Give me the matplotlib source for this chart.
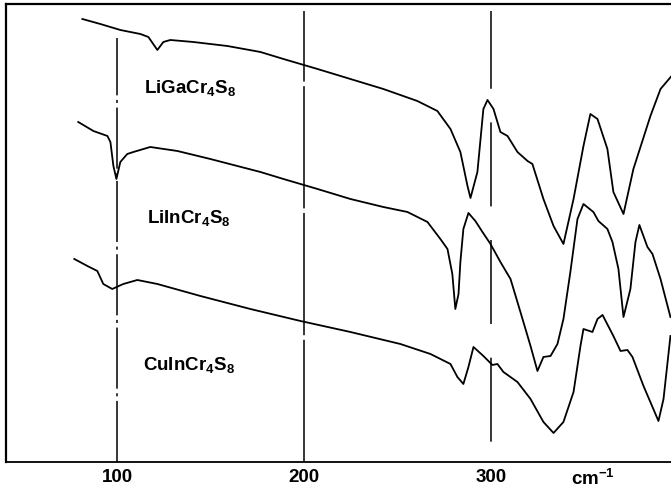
import matplotlib
matplotlib.use("Agg")
import matplotlib.pyplot as plt

plt.rcParams['font.family'] = ['Liberation Sans', 'DejaVu Sans']
plt.rcParams['mathtext.fontset'] = 'custom'
plt.rcParams['mathtext.rm'] = 'Liberation Sans:bold'
plt.rcParams['mathtext.bf'] = 'Liberation Sans:bold'
plt.rcParams['mathtext.default'] = 'bf'

# wavenumber (cm-1) and relative transmission (arbitrary units, traces offset)
ligacr_x = [81.3, 90.9, 101.6, 112.3, 116.6, 121.4, 124.6, 128.3, 140.6, 158.8,
            176.5, 188.8, 207.0, 224.6, 242.2, 260.4, 271.1, 278.1, 283.4, 287.2,
            288.8, 292.5, 295.7, 297.9, 301.1, 304.8, 308.6, 313.9, 319.3, 321.9,
            327.8, 333.2, 338.5, 343.9, 349.2, 352.9, 356.7, 362.0, 365.2, 370.6,
            375.9, 385.0, 390.4, 396.3]
ligacr_y = [443, 438, 432, 428, 425, 412, 420, 422, 420, 416,
            410, 403, 393, 383, 373, 361, 351, 333, 310, 276,
            264, 290, 353, 362, 353, 330, 326, 310, 301, 298,
            263, 236, 218, 263, 316, 348, 343, 313, 270, 248,
            293, 346, 373, 386]

liincr_x = [79.1, 87.2, 94.7, 96.3, 97.9, 99.5, 101.6, 105.3, 108.6, 117.6,
            132.1, 149.7, 176.5, 188.8, 207.0, 224.6, 242.2, 255.1, 265.8, 272.7,
            276.5, 279.1, 280.7, 282.4, 283.4, 285.0, 287.7, 291.4, 295.2, 299.5,
            304.8, 310.2, 315.5, 320.9, 324.6, 327.8, 331.6, 335.3, 338.5, 342.2,
            346.0, 349.2, 354.5, 357.2, 362.0, 364.7, 367.9, 370.6, 374.3, 377.0,
            379.1, 383.4, 386.1, 390.4, 395.7]
liincr_y = [340, 331, 326, 320, 296, 283, 300, 308, 310, 315,
            311, 303, 290, 283, 273, 263, 255, 250, 240, 223,
            213, 188, 153, 168, 200, 233, 249, 241, 230, 218,
            200, 183, 150, 116, 91, 105, 106, 118, 143, 190,
            243, 258, 250, 241, 233, 220, 193, 145, 173, 220,
            237, 215, 208, 183, 145]

cuincr_x = [77.0, 84.0, 89.3, 92.5, 97.3, 103.2, 110.7, 121.4, 144.4, 171.1,
            197.9, 224.6, 251.3, 267.4, 278.1, 281.8, 285.0, 287.7, 290.4, 295.7,
            300.5, 303.2, 306.4, 313.9, 320.9, 327.8, 333.2, 338.5, 343.9, 347.6,
            349.2, 354.0, 356.7, 359.4, 365.2, 369.0, 372.7, 375.4, 381.3, 389.3,
            392.0, 395.7]
cuincr_y = [203, 196, 191, 178, 173, 178, 182, 178, 166, 153,
            141, 130, 118, 108, 98, 85, 78, 95, 115, 106,
            97, 98, 90, 80, 63, 40, 29, 40, 70, 116,
            133, 130, 143, 147, 126, 111, 112, 105, 76, 41,
            63, 126]

names = ['LiGaCr$_4$S$_8$', 'LiInCr$_4$S$_8$', 'CuInCr$_4$S$_8$']
name_x = [114.4, 116.0, 113.9]
name_y = [375, 245, 98]

tick_pos = [100, 200, 300, 354.5]
tick_labels = ['100', '200', '300', 'cm$^{-1}$']

fig = plt.figure(figsize=(6.71, 4.89), dpi=100)
ax = fig.add_axes([0.009, 0.0532, 0.991, 0.9366])

for xs, ys in [(ligacr_x, ligacr_y), (liincr_x, liincr_y), (cuincr_x, cuincr_y)]:
    ax.plot(xs, ys, color='black', lw=1.3, solid_joinstyle='round')

# reference lines
ax.axvline(100, ymax=0.926, color='black', lw=1.1, linestyle=(0, (40, 3, 2, 3)))
ax.axvline(200, ymax=0.985, color='black', lw=1.1, linestyle=(0, (80, 3)))
ax.axvline(300, ymax=0.985, color='black', lw=1.1, linestyle=(63.7, (55, 22)))

for n, tx, ty in zip(names, name_x, name_y):
    ax.text(tx, ty, n, fontsize=13.5, fontweight='bold', va='center', ha='left')

ax.set_xlim(40.5, 396)
ax.set_ylim(0, 458)
ax.set_xticks(tick_pos)
ax.set_xticklabels(tick_labels, fontsize=13.5, fontweight='bold')
ax.tick_params(axis='x', length=0, pad=4)
ax.set_yticks([])
ax.spines['right'].set_visible(False)
ax.spines['left'].set_linewidth(1.6)
ax.spines['top'].set_linewidth(1.6)
ax.spines['bottom'].set_linewidth(1.3)

fig.savefig('out.png', dpi=100)
